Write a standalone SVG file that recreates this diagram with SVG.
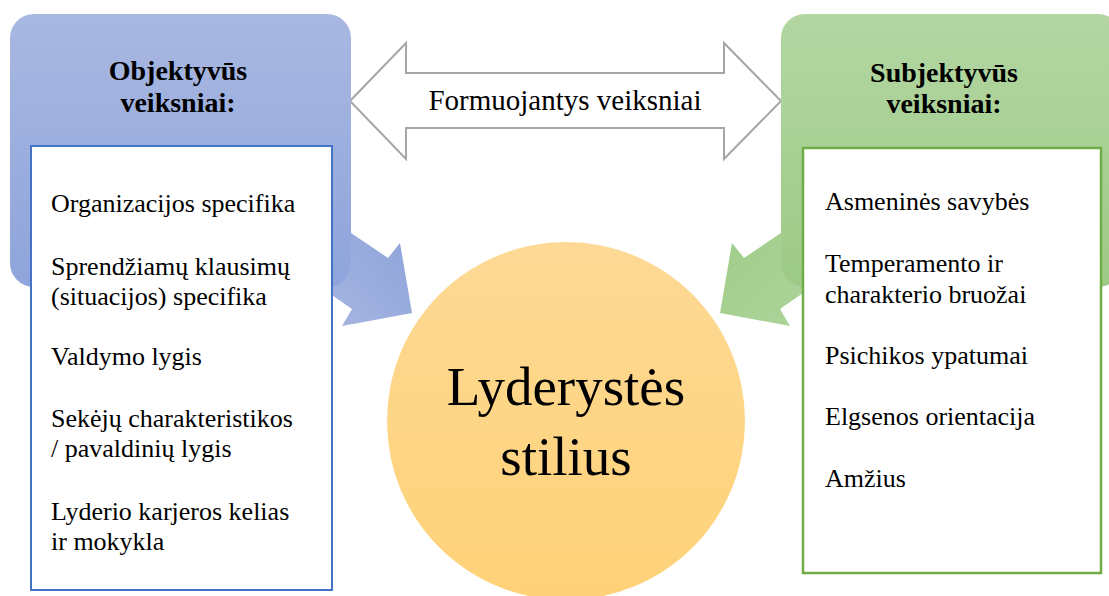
<svg xmlns="http://www.w3.org/2000/svg" width="1109" height="596" viewBox="0 0 1109 596">
  <defs>
    <linearGradient id="blueFill" x1="0" y1="0" x2="0" y2="1">
      <stop offset="0" stop-color="#a9b8e1"/>
      <stop offset="1" stop-color="#8ea4db"/>
    </linearGradient>
    <linearGradient id="greenFill" x1="0" y1="0" x2="0" y2="1">
      <stop offset="0" stop-color="#b3d6a2"/>
      <stop offset="1" stop-color="#9dca86"/>
    </linearGradient>
    <linearGradient id="blueArrow" x1="0" y1="1" x2="1" y2="0">
      <stop offset="0" stop-color="#aab9e2"/>
      <stop offset="1" stop-color="#8aa0d9"/>
    </linearGradient>
    <linearGradient id="greenArrow" x1="0" y1="1" x2="1" y2="0">
      <stop offset="0" stop-color="#b0d59e"/>
      <stop offset="1" stop-color="#9ccb86"/>
    </linearGradient>
    <linearGradient id="sunFill" x1="0" y1="0" x2="0" y2="1">
      <stop offset="0" stop-color="#fdd995"/>
      <stop offset="1" stop-color="#ffd278"/>
    </linearGradient>
    <style>
      .serif { font-family: "Liberation Serif", "Times New Roman", serif; fill: #000; }
      .title { font-size: 28px; font-weight: bold; text-anchor: middle; }
      .item { font-size: 26px; }
      .center { font-size: 55px; text-anchor: middle; }
      .both { font-size: 29px; text-anchor: middle; }
      .outline { fill: #ffffff; stroke: #a6a6a6; stroke-width: 2; stroke-linejoin: miter; }
      .listBlue { fill: #ffffff; stroke: #4472c4; stroke-width: 2; }
      .listGreen { fill: #ffffff; stroke: #70ad47; stroke-width: 2.5; }
    </style>
  </defs>

  <!-- block arrows into the centre circle, and the two-way arrow on top -->
  <g id="connectors">
    <path id="arrow-objective" fill="url(#blueArrow)"
          d="M 300 200 L 351 233 L 388 258 L 400 243 L 412 313 L 342 326 L 352 309 L 300 273 Z"/>
    <path id="arrow-subjective" fill="url(#greenArrow)" transform="translate(1132,0) scale(-1,1)"
          d="M 300 200 L 351 233 L 388 258 L 400 243 L 412 313 L 342 326 L 352 309 L 300 273 Z"/>
    <g id="arrow-forming">
      <path class="outline" d="M 350 101 L 406 43 L 406 73 L 724 73 L 724 43 L 781 101 L 724 159 L 724 128 L 406 128 L 406 159 Z"/>
      <text class="serif both" x="565" y="110">Formuojantys veiksniai</text>
    </g>
  </g>

  <!-- objective factors -->
  <g id="objective">
    <rect x="10" y="14" width="341" height="273" rx="24" fill="url(#blueFill)"/>
    <text class="serif title" x="178" y="80">Objektyvūs</text>
    <text class="serif title" x="178" y="112">veiksniai:</text>
    <rect class="listBlue" x="31" y="146" width="301" height="444"/>
    <text class="serif item" x="51">
      <tspan x="51" y="212">Organizacijos specifika</tspan>
      <tspan x="51" y="275">Sprendžiamų klausimų</tspan>
      <tspan x="51" y="305">(situacijos) specifika</tspan>
      <tspan x="51" y="365">Valdymo lygis</tspan>
      <tspan x="51" y="427">Sekėjų charakteristikos</tspan>
      <tspan x="51" y="457">/ pavaldinių lygis</tspan>
      <tspan x="51" y="520">Lyderio karjeros kelias</tspan>
      <tspan x="51" y="550">ir mokykla</tspan>
    </text>
  </g>

  <!-- subjective factors -->
  <g id="subjective">
    <rect x="781" y="14" width="341" height="273" rx="24" fill="url(#greenFill)"/>
    <text class="serif title" x="944" y="82">Subjektyvūs</text>
    <text class="serif title" x="944" y="113">veiksniai:</text>
    <rect class="listGreen" x="803" y="148" width="298" height="425"/>
    <text class="serif item">
      <tspan x="825" y="210">Asmeninės savybės</tspan>
      <tspan x="825" y="272">Temperamento ir</tspan>
      <tspan x="825" y="303">charakterio bruožai</tspan>
      <tspan x="825" y="364">Psichikos ypatumai</tspan>
      <tspan x="825" y="425">Elgsenos orientacija</tspan>
      <tspan x="825" y="487">Amžius</tspan>
    </text>
  </g>

  <!-- leadership style -->
  <g id="style">
    <circle cx="566" cy="421" r="179" fill="url(#sunFill)"/>
    <text class="serif center" x="566" y="405">Lyderystės</text>
    <text class="serif center" x="566" y="475">stilius</text>
  </g>
</svg>
